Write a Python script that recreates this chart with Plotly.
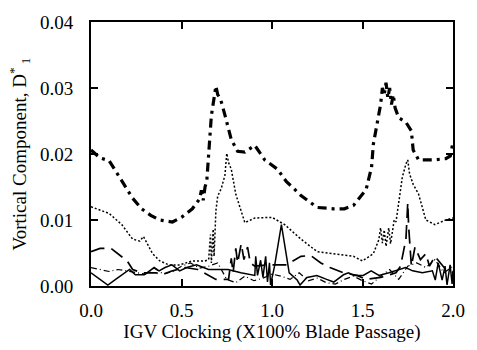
import plotly.graph_objects as go

# ---- data ----
xA = [0, 0.05, 0.10, 0.14, 0.19, 0.23, 0.28, 0.33, 0.38, 0.45, 0.50, 0.56, 0.60, 0.61, 0.62,
      0.63, 0.64, 0.665, 0.68, 0.69, 0.70, 0.715, 0.74, 0.775, 0.81, 0.85, 0.905, 0.96, 1.03,
      1.08, 1.12, 1.16, 1.25, 1.34, 1.40, 1.45, 1.52, 1.55, 1.56, 1.575, 1.59, 1.60, 1.61, 1.62,
      1.63, 1.64, 1.65, 1.66, 1.67, 1.68, 1.70, 1.74, 1.77, 1.78, 1.81, 1.89, 1.96, 1.985, 2.0]
yA = [0.0206, 0.0194, 0.0190, 0.0172, 0.0151, 0.0133, 0.0117, 0.0107, 0.0100, 0.0097, 0.0104,
      0.0117, 0.0132, 0.0145, 0.0130, 0.0150, 0.0160, 0.0258, 0.0285, 0.0303, 0.0290, 0.0284,
      0.0259, 0.0222, 0.0204, 0.0203, 0.0213, 0.0191, 0.0177, 0.0158, 0.0148, 0.0137, 0.0119,
      0.0117, 0.0117, 0.0122, 0.0146, 0.0180, 0.0215, 0.0240, 0.0262, 0.0275, 0.0300, 0.0290,
      0.0308, 0.0285, 0.0300, 0.0275, 0.0290, 0.0270, 0.0255, 0.0248, 0.0235, 0.0206, 0.0191,
      0.0191, 0.0193, 0.0197, 0.0218]

xB = [0, 0.10, 0.17, 0.23, 0.27, 0.29, 0.34, 0.38, 0.43, 0.49, 0.56, 0.63, 0.65, 0.66, 0.665,
      0.675, 0.68, 0.69, 0.70, 0.72, 0.74, 0.75, 0.76, 0.775, 0.80, 0.85, 0.905, 1.0, 1.07, 1.16,
      1.25, 1.34, 1.45, 1.50, 1.56, 1.59, 1.60, 1.61, 1.62, 1.63, 1.645, 1.655, 1.665, 1.675,
      1.685, 1.70, 1.72, 1.74, 1.75, 1.76, 1.78, 1.81, 1.85, 1.90, 1.96, 2.0]
yB = [0.0120, 0.0110, 0.0093, 0.0071, 0.0068, 0.0075, 0.0049, 0.0038, 0.0032, 0.0032, 0.0038,
      0.0038, 0.0040, 0.0078, 0.0035, 0.0086, 0.0045, 0.0114, 0.0136, 0.0148, 0.0168, 0.0201,
      0.0187, 0.0177, 0.0139, 0.0096, 0.0103, 0.0104, 0.0093, 0.0071, 0.0052, 0.0049, 0.0045,
      0.0038, 0.0049, 0.0070, 0.0088, 0.0065, 0.0085, 0.0060, 0.0088, 0.0064, 0.0080, 0.0100,
      0.0097, 0.0126, 0.0165, 0.0185, 0.0191, 0.0170, 0.0154, 0.0139, 0.0100, 0.0093, 0.0100,
      0.0103]

xC = [0, 0.05, 0.11, 0.20, 0.23, 0.28, 0.36, 0.39, 0.45, 0.52, 0.59, 0.69, 0.76, 0.775, 0.785,
      0.80, 0.81, 0.83, 0.845, 0.865, 0.88, 0.905, 0.975, 1.05, 1.08, 1.16, 1.215, 1.27, 1.32,
      1.395, 1.47, 1.52, 1.60, 1.685, 1.71, 1.74, 1.75, 1.755, 1.76, 1.77, 1.79, 1.82, 1.85,
      1.87, 1.90, 1.96, 2.0]
yC = [0.0052, 0.0057, 0.0057, 0.0038, 0.0025, 0.0020, 0.0020, 0.0017, 0.0023, 0.0028, 0.0025,
      0.0010, 0.0010, 0.0042, 0.0020, 0.0057, 0.0035, 0.0064, 0.0040, 0.0059, 0.0035, 0.0030,
      0.0032, 0.0032, 0.0032, 0.0045, 0.0046, 0.0035, 0.0028, 0.0020, 0.0016, 0.0010, 0.0013,
      0.0020, 0.0030, 0.0071, 0.0126, 0.0090, 0.0071, 0.0030, 0.0059, 0.0040, 0.0049, 0.0030,
      0.0045, 0.0025, 0.0020]

xD = [0, 0.049, 0.093, 0.136, 0.185, 0.213, 0.245, 0.294, 0.349, 0.376, 0.409, 0.447, 0.490,
      0.529, 0.583, 0.649, 0.757, 0.828, 0.905, 0.910, 0.92, 0.937, 0.95, 0.965, 0.975, 0.986,
      0.992, 1.014, 1.052, 1.095, 1.139, 1.155, 1.193, 1.248, 1.302, 1.341, 1.395, 1.422, 1.455,
      1.504, 1.548, 1.591, 1.646, 1.684, 1.738, 1.777, 1.831, 1.886, 1.902, 1.918, 1.94, 1.956,
      1.967, 1.984, 1.995, 2.0]
yD = [0.0020, 0.0010, 0.00015, 0.0010, 0.0020, 0.0025, 0.0017, 0.0017, 0.0028, 0.0023, 0.0028,
      0.0032, 0.0023, 0.0028, 0.0032, 0.0025, 0.0025, 0.0020, 0.0016, 0.0045, 0.0016, 0.0039,
      0.0013, 0.0045, 0.0006, 0.0035, 0.00015, 0.0030, 0.0093, 0.0020, 0.0009, 0.00015, 0.0013,
      0.0016, 0.0010, 0.0006, 0.0017, 0.0020, 0.0016, 0.0016, 0.0023, 0.0016, 0.0020, 0.0023,
      0.0028, 0.0023, 0.0020, 0.0023, 0.0009, 0.0035, 0.0009, 0.0030, 0.00015, 0.0032, 0.0003,
      0.0023]

xE = [0, 0.05, 0.1, 0.15, 0.2, 0.25, 0.3, 0.35, 0.4, 0.45, 0.5, 0.55, 0.6, 0.65, 0.7, 0.75,
      0.8, 0.85, 0.9, 0.95, 1.0, 1.05, 1.1, 1.15, 1.2, 1.25, 1.3, 1.35, 1.4, 1.45, 1.5, 1.55,
      1.6, 1.65, 1.7, 1.75, 1.8, 1.85, 1.9, 1.95, 2.0]
yE = [0.0028, 0.0025, 0.0022, 0.0025, 0.0023, 0.0020, 0.0018, 0.0027, 0.0018, 0.0022, 0.0030,
      0.0035, 0.0027, 0.0030, 0.0035, 0.0010, 0.0005, 0.0015, 0.0008, 0.0012, 0.0018, 0.0015,
      0.0010, 0.0020, 0.0008, 0.0012, 0.0005, 0.0003, 0.0010, 0.0015, 0.0008, 0.0003, 0.0015,
      0.0025, 0.0010, 0.0030, 0.0035, 0.0028, 0.0040, 0.0020, 0.0030]

x_ticks = [0.0, 0.5, 1.0, 1.5, 2.0]
x_tick_labels = ["0.0", "0.5", "1.0", "1.5", "2.0"]
y_ticks = [0.00, 0.01, 0.02, 0.03, 0.04]
y_tick_labels = ["0.00", "0.01", "0.02", "0.03", "0.04"]

FONT = "Liberation Serif"

fig = go.Figure()
fig.add_trace(go.Scatter(x=xE, y=yE, mode="lines",
                         line=dict(color="black", width=1.2, dash="6px,3px,1px,3px")))
fig.add_trace(go.Scatter(x=xD, y=yD, mode="lines",
                         line=dict(color="black", width=1.5)))
fig.add_trace(go.Scatter(x=xC, y=yC, mode="lines",
                         line=dict(color="black", width=1.7, dash="14px,7px")))
fig.add_trace(go.Scatter(x=xB, y=yB, mode="lines",
                         line=dict(color="black", width=1.5, dash="2px,2px")))
fig.add_trace(go.Scatter(x=xA, y=yA, mode="lines",
                         line=dict(color="black", width=3.2, dash="9px,5px,3px,5px")))

axis_common = dict(showline=True, linecolor="black", linewidth=2, mirror="ticks",
                   ticks="inside", ticklen=7, tickwidth=1.5, tickcolor="black",
                   showgrid=False, zeroline=False,
                   tickfont=dict(family=FONT, size=19, color="black"))

fig.update_xaxes(range=[0, 2.0], tickvals=x_ticks, ticktext=x_tick_labels,
                 ticklabelstandoff=6,
                 title=dict(text="IGV Clocking (X100% Blade Passage)",
                            font=dict(family=FONT, size=19, color="black"), standoff=4),
                 **axis_common)
fig.update_yaxes(range=[0, 0.04], tickvals=y_ticks, ticktext=y_tick_labels,
                 ticklabelstandoff=12,
                 title=dict(text="Vortical Component, D<sup>*</sup><sub> 1</sub>",
                            font=dict(family=FONT, size=19, color="black"), standoff=8),
                 **axis_common)

fig.update_layout(width=477, height=350, showlegend=False,
                  margin=dict(l=91, r=19, t=13, b=61),
                  plot_bgcolor="white", paper_bgcolor="white")

fig.write_html("out.html")
